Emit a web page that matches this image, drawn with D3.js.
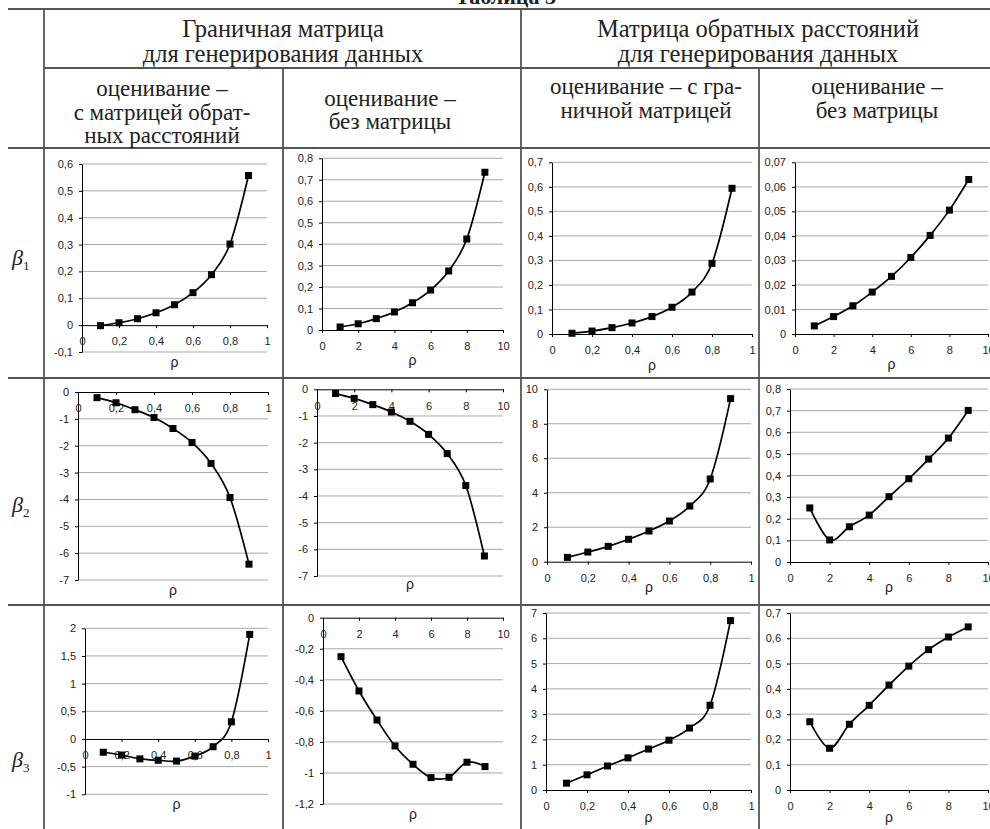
<!DOCTYPE html>
<html>
<head>
<meta charset="utf-8">
<script src="https://cdn.jsdelivr.net/npm/d3@7"></script>
<style>
body { margin: 0; background: #fff; }
svg { display: block; }
</style>
</head>
<body>
<script>
// x values
var rhoFrac = [0.1, 0.2, 0.3, 0.4, 0.5, 0.6, 0.7, 0.8, 0.9];
var rhoInt = [1, 2, 3, 4, 5, 6, 7, 8, 9];

// beta1
var b1GranObr  = [-0.002, 0.009, 0.024, 0.046, 0.076, 0.121, 0.188, 0.302, 0.557];
var b1GranNone = [0.014, 0.029, 0.053, 0.084, 0.127, 0.186, 0.275, 0.424, 0.735];
var b1ObrGran  = [0.003, 0.012, 0.026, 0.045, 0.071, 0.109, 0.171, 0.288, 0.594];
var b1ObrNone  = [0.0033, 0.0071, 0.0115, 0.0171, 0.0235, 0.0312, 0.0402, 0.0505, 0.063];
// beta2
var b2GranObr  = [-0.21, -0.40, -0.66, -0.95, -1.36, -1.88, -2.66, -3.93, -6.41];
var b2GranNone = [-0.16, -0.34, -0.575, -0.85, -1.2, -1.69, -2.41, -3.61, -6.25];
var b2ObrGran  = [0.25, 0.56, 0.89, 1.30, 1.78, 2.36, 3.23, 4.80, 9.46];
var b2ObrNone  = [0.25, 0.102, 0.163, 0.217, 0.302, 0.385, 0.476, 0.573, 0.701];
// beta3
var b3GranObr  = [-0.24, -0.29, -0.36, -0.385, -0.40, -0.31, -0.14, 0.31, 1.89];
var b3GranNone = [-0.251, -0.472, -0.659, -0.826, -0.944, -1.03, -1.028, -0.931, -0.959];
var b3ObrGran  = [0.27, 0.6, 0.95, 1.27, 1.62, 1.97, 2.45, 3.35, 6.7];
var b3ObrNone  = [0.27, 0.165, 0.26, 0.335, 0.415, 0.49, 0.555, 0.605, 0.645];

// header texts
var topHeaders = [
  ["Граничная матрица", "для генерирования данных"],
  ["Матрица обратных расстояний", "для генерирования данных"]
];
var subHeaders = [
  ["оценивание –", "с матрицей обрат-", "ных расстояний"],
  ["оценивание –", "без матрицы"],
  ["оценивание – с гра-", "ничной матрицей"],
  ["оценивание –", "без матрицы"]
];
var rowLabels = ["1", "2", "3"];

var width = 990, height = 829;

var svg = d3.select("body").append("svg")
    .attr("width", width)
    .attr("height", height);

var fmt = d3.formatLocale({decimal: ",", thousands: "\u00a0", grouping: [3], currency: ["", ""], minus: "-"}).format("~g");

function ticks(dom, step) {
  var n = Math.round((dom[1] - dom[0]) / step);
  return d3.range(n + 1).map(function(i) { return +(dom[0] + i * step).toFixed(5); });
}

// cut-off caption at the very top
svg.append("text")
    .attr("x", 556).attr("y", 4)
    .attr("text-anchor", "end")
    .attr("font-family", "Liberation Serif")
    .attr("font-weight", "bold")
    .attr("font-size", 22)
    .attr("fill", "#222")
    .text("Таблица 3");

// table grid
var lineColor = "#555";
var tableLines = [
  [8, 9, 990, 9], [44, 68, 990, 68], [8, 148, 990, 148], [8, 378, 990, 378], [8, 605, 990, 605],
  [44, 9, 44, 829], [283, 68, 283, 829], [521, 9, 521, 829], [759, 68, 759, 829]
];
svg.append("g").selectAll("line")
  .data(tableLines)
  .enter().append("line")
    .attr("x1", function(d) { return d[0]; })
    .attr("y1", function(d) { return d[1]; })
    .attr("x2", function(d) { return d[2]; })
    .attr("y2", function(d) { return d[3]; })
    .attr("stroke", lineColor)
    .attr("stroke-width", 1.8);

// headers
var topPos = [{x: 283, y: [37, 61.5], size: 24.5}, {x: 758, y: [37, 61.5], size: 24.5}];
var subPos = [
  {x: 162, y: [96, 120, 143], size: 23},
  {x: 390, y: [105.5, 129], size: 23},
  {x: 646, y: [94, 117.5], size: 23},
  {x: 877, y: [94, 117.5], size: 23}
];
function headerText(lines, pos) {
  var t = svg.append("text")
      .attr("text-anchor", "middle")
      .attr("font-family", "Liberation Serif")
      .attr("font-size", pos.size)
      .attr("fill", "#222");
  lines.forEach(function(s, i) {
    t.append("tspan").attr("x", pos.x).attr("y", pos.y[i]).text(s);
  });
}
topHeaders.forEach(function(h, i) { headerText(h, topPos[i]); });
subHeaders.forEach(function(h, i) { headerText(h, subPos[i]); });

// beta labels
var rowY = [265, 512, 767];
rowLabels.forEach(function(s, i) {
  var t = svg.append("text")
      .attr("x", 12).attr("y", rowY[i])
      .attr("font-family", "Liberation Serif")
      .attr("fill", "#222");
  t.append("tspan").attr("font-style", "italic").attr("font-size", 22).text("β");
  t.append("tspan").attr("font-size", 13).attr("dy", 5).text(s);
});

// chart layout (pixel boxes) and data binding
var charts = [
  {xs: rhoFrac, ys: b1GranObr,  xDom: [0, 1],  xStep: 0.2, yDom: [-0.1, 0.6], yStep: 0.1,  box: [82, 267, 164, 352], rhoY: 367},
  {xs: rhoInt,  ys: b1GranNone, xDom: [0, 10], xStep: 2,   yDom: [0, 0.8],    yStep: 0.1,  box: [322, 503, 158.3, 330], rhoY: 365},
  {xs: rhoFrac, ys: b1ObrGran,  xDom: [0, 1],  xStep: 0.2, yDom: [0, 0.7],    yStep: 0.1,  box: [552, 752, 162.3, 334], rhoY: 370},
  {xs: rhoInt,  ys: b1ObrNone,  xDom: [0, 10], xStep: 2,   yDom: [0, 0.07],   yStep: 0.01, box: [795, 988, 162.3, 334], rhoY: 369},
  {xs: rhoFrac, ys: b2GranObr,  xDom: [0, 1],  xStep: 0.2, yDom: [-7, 0],     yStep: 1,    box: [78, 268, 392, 580], rhoY: 595},
  {xs: rhoInt,  ys: b2GranNone, xDom: [0, 10], xStep: 2,   yDom: [-7, 0],     yStep: 1,    box: [317, 503, 389.3, 576], rhoY: 589},
  {xs: rhoFrac, ys: b2ObrGran,  xDom: [0, 1],  xStep: 0.2, yDom: [0, 10],     yStep: 2,    box: [547, 751, 389.3, 561.7], rhoY: 592},
  {xs: rhoInt,  ys: b2ObrNone,  xDom: [0, 10], xStep: 2,   yDom: [0, 0.8],    yStep: 0.1,  box: [790, 988, 389, 562], rhoY: 592},
  {xs: rhoFrac, ys: b3GranObr,  xDom: [0, 1],  xStep: 0.2, yDom: [-1, 2],     yStep: 0.5,  box: [85, 268, 628.3, 794.3], rhoY: 809},
  {xs: rhoInt,  ys: b3GranNone, xDom: [0, 10], xStep: 2,   yDom: [-1.2, 0],   yStep: 0.2,  box: [323, 503, 617.7, 804], rhoY: 819},
  {xs: rhoFrac, ys: b3ObrGran,  xDom: [0, 1],  xStep: 0.2, yDom: [0, 7],      yStep: 1,    box: [546, 751, 613, 790], rhoY: 822},
  {xs: rhoInt,  ys: b3ObrNone,  xDom: [0, 10], xStep: 2,   yDom: [0, 0.7],    yStep: 0.1,  box: [790, 988, 613, 790], rhoY: 822}
];

function drawChart(c) {
  var left = c.box[0], right = c.box[1], top = c.box[2], bottom = c.box[3];
  var x = d3.scaleLinear().domain(c.xDom).range([left, right]);
  var y = d3.scaleLinear().domain(c.yDom).range([bottom, top]);
  var yt = ticks(c.yDom, c.yStep), xt = ticks(c.xDom, c.xStep);
  var g = svg.append("g");

  // horizontal gridlines
  g.append("g").selectAll("line")
    .data(yt.filter(function(v) { return v !== 0; }))
    .enter().append("line")
      .attr("x1", left).attr("x2", right)
      .attr("y1", function(d) { return y(d); })
      .attr("y2", function(d) { return y(d); })
      .attr("stroke", "#a8a8a8")
      .attr("stroke-width", 1);

  var yAxis = g.append("g")
      .attr("transform", "translate(" + left + ",0)")
      .call(d3.axisLeft(y).tickValues(yt).tickFormat(fmt).tickSize(3).tickSizeOuter(0).tickPadding(6));
  var xAxis = g.append("g")
      .attr("transform", "translate(0," + y(0) + ")")
      .call(d3.axisBottom(x).tickValues(xt).tickFormat(fmt).tickSize(3).tickSizeOuter(0).tickPadding(9.5));
  [yAxis, xAxis].forEach(function(a) {
    a.attr("font-family", "Liberation Sans").attr("font-size", 11);
    a.selectAll("text").attr("fill", "#222");
    a.selectAll("path, line").attr("stroke", "#000");
  });

  var pts = c.xs.map(function(v, i) { return [v, c.ys[i]]; });
  var line = d3.line()
      .x(function(d) { return x(d[0]); })
      .y(function(d) { return y(d[1]); })
      .curve(d3.curveCardinal.tension(0));
  g.append("path")
      .datum(pts)
      .attr("d", line)
      .attr("fill", "none")
      .attr("stroke", "#000")
      .attr("stroke-width", 1.7);

  g.append("g").selectAll("rect")
    .data(pts)
    .enter().append("rect")
      .attr("x", function(d) { return x(d[0]) - 3.5; })
      .attr("y", function(d) { return y(d[1]) - 3.5; })
      .attr("width", 7).attr("height", 7)
      .attr("fill", "#000");

  g.append("text")
      .attr("x", (left + right) / 2)
      .attr("y", c.rhoY)
      .attr("text-anchor", "middle")
      .attr("font-family", "Liberation Sans")
      .attr("font-size", 14)
      .attr("fill", "#222")
      .text("ρ");
}

charts.forEach(drawChart);
</script>
</body>
</html>
